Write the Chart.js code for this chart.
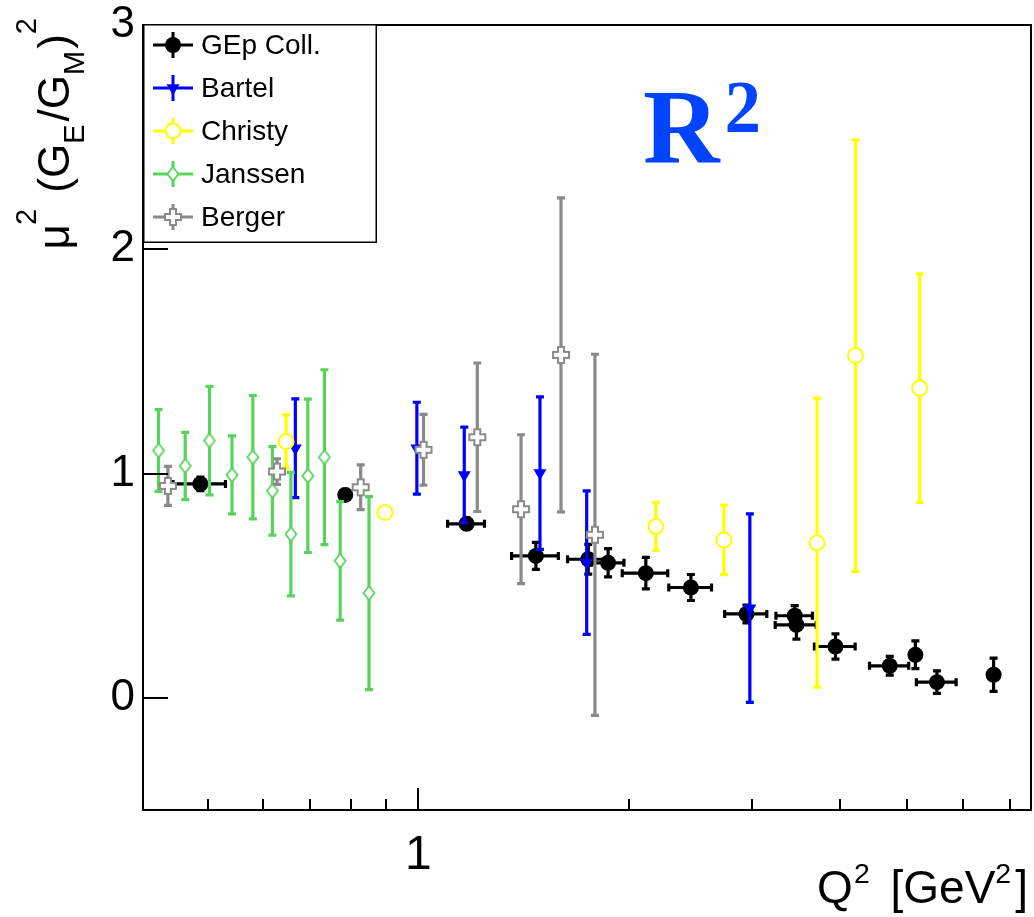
<!DOCTYPE html>
<html><head><meta charset="utf-8">
<script src="https://cdn.jsdelivr.net/npm/chart.js@4.4.1/dist/chart.umd.min.js"></script>
<style>html,body{margin:0;padding:0;background:#fff;overflow:hidden}canvas{display:block}</style>
</head><body>
<canvas id="c" width="1034" height="917" style="width:1034px;height:917px"></canvas>
<script>
// ---------------- data ----------------
const gepX  = [0.488, 0.786, 1.172, 1.472, 1.749, 1.867, 2.114, 2.452, 2.944, 3.451, 3.470, 3.946, 4.718, 5.133, 5.510, 6.640];
const gepY  = [0.954, 0.905, 0.776, 0.633, 0.618, 0.602, 0.556, 0.492, 0.374, 0.366, 0.325, 0.229, 0.143, 0.192, 0.070, 0.103];
const gepEX = [0.042, 0.012, 0.071, 0.113, 0.115, 0.100, 0.158, 0.172, 0.204, 0.207, 0.234, 0.264, 0.304, 0.020, 0.360, 0.040];
const gepEY = [0.030, 0.025, 0.025, 0.060, 0.066, 0.063, 0.070, 0.058, 0.040, 0.045, 0.063, 0.056, 0.042, 0.062, 0.050, 0.074];

const bartelX  = [0.667, 0.995, 1.163, 1.492, 1.740, 2.977];
const bartelY  = [1.113, 1.113, 0.994, 1.002, 0.603, 0.400];
const bartelEY = [0.220, 0.205, 0.213, 0.340, 0.320, 0.420];

const christyX  = [0.647, 0.896, 2.185, 2.733, 3.714, 4.214, 5.206];
const christyY  = [1.143, 0.826, 0.764, 0.704, 0.692, 1.526, 1.381];
const christyEY = [0.119, 0.020, 0.107, 0.155, 0.644, 0.962, 0.509];

const janssenX  = [0.4252, 0.4642, 0.5028, 0.5415, 0.580, 0.6185, 0.6573, 0.695, 0.734, 0.773, 0.850];
const janssenY  = [1.103, 1.034, 1.147, 0.994, 1.073, 0.923, 0.730, 0.990, 1.073, 0.611, 0.467];
const janssenEY = [0.182, 0.150, 0.242, 0.174, 0.275, 0.197, 0.275, 0.342, 0.390, 0.264, 0.430];

const bergerX  = [0.4385, 0.628, 0.827, 1.017, 1.214, 1.402, 1.599, 1.788];
const bergerY  = [0.945, 1.009, 0.939, 1.106, 1.162, 0.841, 1.529, 0.727];
const bergerEY = [0.087, 0.057, 0.100, 0.158, 0.331, 0.332, 0.700, 0.805];

const seriesNames = ['GEp Coll.', 'Bartel', 'Christy', 'Janssen', 'Berger'];
const xTickVals = [0.5, 0.6, 0.7, 0.8, 0.9, 1, 2, 3, 4, 5, 6, 7];
const xMajor = [1];
const yTickVals = [0, 1, 2, 3];

// ---------------- styling ----------------
const SANS = '"Liberation Sans", Arial, Helvetica, sans-serif';
const SERIF = '"Liberation Serif", "Times New Roman", serif';
const GREEN = '#5ad35a', GRAY = '#8a8a8a', YELLOW = '#ffff00', BLUE = '#0000ff';

function diamond(color){
  const c=document.createElement('canvas'); c.width=14; c.height=18;
  const g=c.getContext('2d');
  g.beginPath(); g.moveTo(7,2); g.lineTo(12.5,9); g.lineTo(7,16); g.lineTo(1.5,9); g.closePath();
  g.fillStyle='#fff'; g.fill(); g.lineWidth=1.8; g.strokeStyle=color; g.stroke();
  return c;
}
function openCross(color){
  const c=document.createElement('canvas'); c.width=20; c.height=20;
  const g=c.getContext('2d');
  const p=[[7,2],[13,2],[13,7],[18,7],[18,13],[13,13],[13,18],[7,18],[7,13],[2,13],[2,7],[7,7]];
  g.beginPath(); p.forEach((q,i)=> i? g.lineTo(q[0],q[1]) : g.moveTo(q[0],q[1])); g.closePath();
  g.fillStyle='#fff'; g.fill(); g.lineWidth=2; g.strokeStyle=color; g.stroke();
  return c;
}

const series = [
  {x:gepX, y:gepY, ex:gepEX, ey:gepEY, color:'#000', style:'circle', fill:'#000', r:8, rot:0, bw:0},
  {x:bartelX, y:bartelY, ex:null, ey:bartelEY, color:BLUE, style:'triangle', fill:BLUE, r:7.5, rot:180, bw:0},
  {x:christyX, y:christyY, ex:null, ey:christyEY, color:YELLOW, style:'circle', fill:'#fff', r:7.5, rot:0, bw:2},
  {x:janssenX, y:janssenY, ex:null, ey:janssenEY, color:GREEN, style:diamond(GREEN), fill:'#fff', r:8, rot:0, bw:0},
  {x:bergerX, y:bergerY, ex:null, ey:bergerEY, color:GRAY, style:openCross(GRAY), fill:'#fff', r:9, rot:0, bw:0},
];

const datasets = series.map((s,i)=>({
  label: seriesNames[i],
  data: s.x.map((x,j)=>({x:x, y:s.y[j], ex: s.ex ? s.ex[j] : 0, ey: s.ey[j]})),
  showLine:false,
  pointStyle:s.style, pointRadius:s.r, pointRotation:s.rot,
  pointBackgroundColor:s.fill, pointBorderColor:s.color, pointBorderWidth:s.bw,
  pointHoverRadius:s.r,
  order: series.length - i,
  errColor: s.color
}));

// ---------------- plugins ----------------
const errorBars = {
  id:'errorBars',
  beforeDatasetDraw(chart, args){
    const {ctx, chartArea:a} = chart; const xs=chart.scales.x, ys=chart.scales.y;
    const ds = chart.data.datasets[args.index];
    ctx.save();
    ctx.beginPath(); ctx.rect(a.left, a.top, a.right-a.left, a.bottom-a.top); ctx.clip();
    ctx.strokeStyle = ds.errColor; ctx.lineWidth = 3.2; ctx.lineCap='butt';
    const cap = 4;
    ds.data.forEach(p=>{
      const px = xs.getPixelForValue(p.x), py = ys.getPixelForValue(p.y);
      ctx.beginPath();
      if (p.ey>0){
        const t=ys.getPixelForValue(p.y+p.ey), b=ys.getPixelForValue(p.y-p.ey);
        ctx.moveTo(px,t); ctx.lineTo(px,b);
        ctx.moveTo(px-cap,t); ctx.lineTo(px+cap,t); ctx.moveTo(px-cap,b); ctx.lineTo(px+cap,b);
      }
      if (p.ex>0){
        const l=xs.getPixelForValue(p.x-p.ex), r=xs.getPixelForValue(p.x+p.ex);
        ctx.moveTo(l,py); ctx.lineTo(r,py);
        ctx.moveTo(l,py-cap); ctx.lineTo(l,py+cap); ctx.moveTo(r,py-cap); ctx.lineTo(r,py+cap);
      }
      ctx.stroke();
    });
    ctx.restore();
  }
};

// segs: [text, kind, extraAdvanceAfter]
function rich(ctx, segs, x, y, size, family, align, supOff, subOff, ratio){
  let w=0;
  const items = segs.map(([t,k,gap])=>{
    const fs = k==='n' ? size : size*ratio;
    ctx.font = fs+'px '+family;
    const m = ctx.measureText(t).width + (gap||0); w+=m;
    return {t,k,fs,m};
  });
  let cx = align==='right' ? x-w : x;
  ctx.textAlign='left'; ctx.textBaseline='alphabetic';
  items.forEach(it=>{
    ctx.font = it.fs+'px '+family;
    const dy = it.k==='sup' ? -supOff : (it.k==='sub' ? subOff : 0);
    ctx.fillText(it.t, cx, y+dy);
    cx += it.m;
  });
}

const decorations = {
  id:'decorations',
  afterDraw(chart){
    const {ctx, chartArea:a} = chart; const xs=chart.scales.x, ys=chart.scales.y;
    ctx.save();
    // frame
    ctx.strokeStyle='#000'; ctx.lineWidth=2;
    ctx.strokeRect(a.left, a.top, a.right-a.left, a.bottom-a.top);
    // ticks (inside)
    ctx.beginPath();
    xTickVals.forEach(v=>{
      const px = Math.round(xs.getPixelForValue(v));
      const len = xMajor.includes(v) ? 22 : 11;
      ctx.moveTo(px, a.bottom); ctx.lineTo(px, a.bottom-len);
    });
    yTickVals.forEach(v=>{
      const py = Math.round(ys.getPixelForValue(v));
      ctx.moveTo(a.left, py); ctx.lineTo(a.left+25, py);
    });
    ctx.lineWidth=2; ctx.stroke();

    // legend
    const lx=143, ly=24, lw=234, lh=219;
    ctx.fillStyle='#fff'; ctx.fillRect(lx,ly,lw,lh);
    ctx.lineWidth=1.5; ctx.strokeStyle='#000'; ctx.strokeRect(lx+0.75,ly+0.75,lw-1.5,lh-1.5);
    const rows=[45,88,131,174,217];
    series.forEach((s,i)=>{
      const cy=rows[i], cx=173;
      ctx.strokeStyle=s.color; ctx.lineWidth=3;
      ctx.beginPath(); ctx.moveTo(153,cy); ctx.lineTo(193,cy); ctx.moveTo(cx,cy-13); ctx.lineTo(cx,cy+13); ctx.stroke();
      ctx.fillStyle=s.fill; ctx.strokeStyle=s.color; ctx.lineWidth=s.bw;
      Chart.helpers.drawPoint(ctx, {pointStyle:s.style, radius:s.r, rotation:s.rot, borderWidth:s.bw}, cx, cy);
      ctx.fillStyle='#000'; ctx.font='28px '+SANS; ctx.textAlign='left'; ctx.textBaseline='middle';
      ctx.fillText(seriesNames[i], 201, cy+1);
    });

    // R^2 label
    ctx.fillStyle='#0044ff'; ctx.textAlign='left'; ctx.textBaseline='alphabetic';
    ctx.font='bold 106px '+SERIF;
    ctx.fillText('R', 643, 162);
    const rw = ctx.measureText('R').width;
    ctx.font='bold 73px '+SERIF;
    ctx.fillText('2', 643+rw+5, 132);

    // axis titles
    ctx.fillStyle='#000';
    rich(ctx, [['Q','n',1],['2','sup',8],[' [GeV','n',0],['2','sup',4],[']','n',0]], 1028, 903, 46, SANS, 'right', 20, 0, 0.62);
    ctx.save();
    ctx.translate(69, 18); ctx.rotate(-Math.PI/2);
    rich(ctx, [['\u03BC','n',-1],['2','sup',4],[' (G','n',0],['E','sub',3],['/G','n',0],['M','sub',2],[')','n',0],['2','sup',0]], 0, 0, 44, SANS, 'right', 33, 15, 0.66);
    ctx.restore();
    ctx.restore();
  }
};

function noPad(s){ s.paddingTop=0; s.paddingBottom=0; s.paddingLeft=0; s.paddingRight=0; }

new Chart(document.getElementById('c').getContext('2d'), {
  type:'scatter',
  data:{datasets},
  options:{
    responsive:false, animation:false, devicePixelRatio:1,
    layout:{autoPadding:false, padding:{top:25, right:3, left:0, bottom:0}},
    plugins:{legend:{display:false}, tooltip:{enabled:false}},
    events:[],
    scales:{
      x:{
        type:'logarithmic', min:0.404, max:7.51,
        grid:{display:false, drawTicks:false}, border:{display:false},
        afterBuildTicks:(s)=>{ s.ticks = xTickVals.map(v=>({value:v, major: xMajor.includes(v)})); },
        ticks:{ autoSkip:false, maxRotation:0, minRotation:0, padding:22, color:'#000',
          font:{size:48, family:SANS, lineHeight:1},
          callback:(v)=> xMajor.includes(v) ? String(v) : '' },
        afterFit:(s)=>{ s.height = 107; noPad(s); }
      },
      y:{
        min:-0.5, max:3,
        grid:{display:false, drawTicks:false}, border:{display:false},
        afterBuildTicks:(s)=>{ s.ticks = yTickVals.map(v=>({value:v})); },
        ticks:{ padding:8, color:'#000', font:{size:44, family:SANS, lineHeight:1},
          callback:(v)=> String(v) },
        afterFit:(s)=>{ s.width = 143; noPad(s); }
      }
    }
  },
  plugins:[errorBars, decorations]
});
</script>
</body></html>
